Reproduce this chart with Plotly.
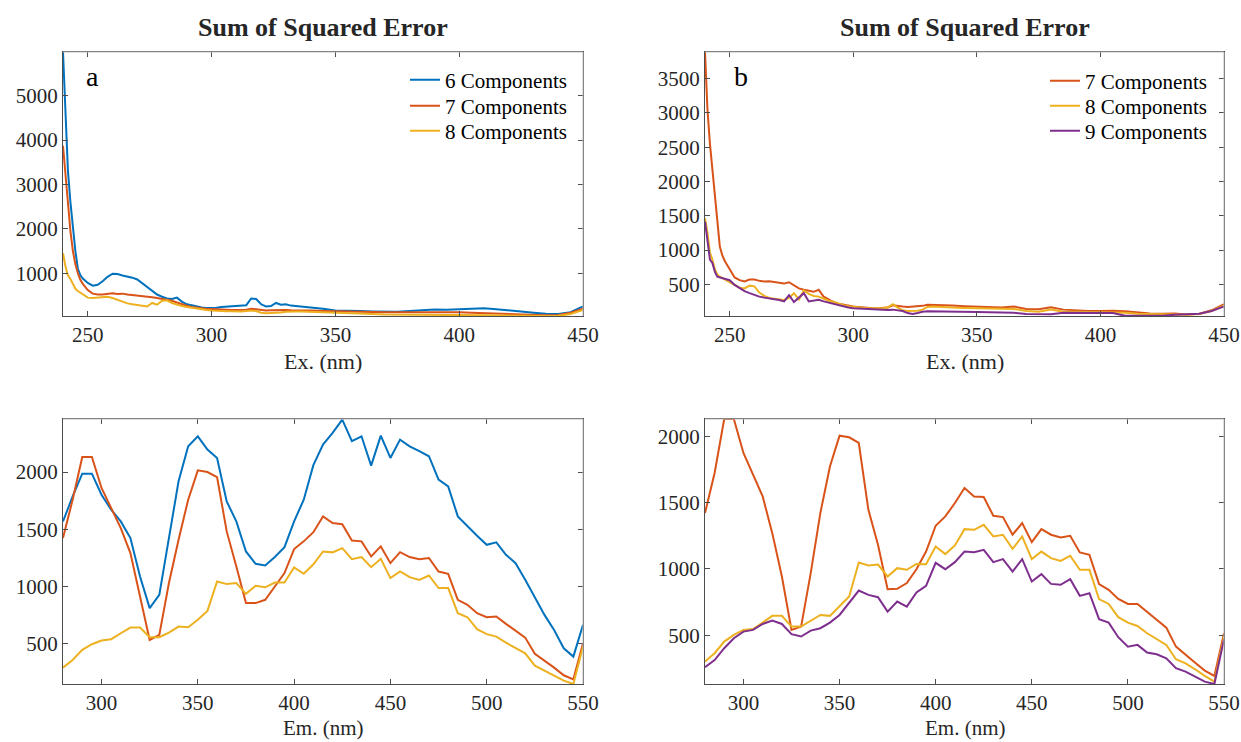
import plotly.graph_objects as go

# ---------------- Excitation (top row) ----------------
ex_nm = [240, 241, 242, 243, 244, 245, 246, 247, 248,
         250, 252, 254, 256, 258, 260, 262, 264, 266, 268,
         270, 272, 274, 276, 278, 280, 282, 284, 286, 288,
         290, 292, 294, 296, 298, 300, 302, 304, 306, 308,
         310, 312, 314, 316, 318, 320, 322, 324, 326, 328,
         330, 332, 334, 336, 338, 340,
         345, 350, 355, 360, 365, 370, 375, 380, 385, 390, 395,
         400, 405, 410, 415, 420, 425, 430, 435, 440, 445, 450]

ex_a_6 = [5986, 4400, 3300, 2600, 2000, 1500, 1100, 960, 880,
          780, 720, 740, 820, 920, 990, 980, 950, 930, 900,
          860, 780, 680, 600, 520, 470, 430, 420, 450, 360,
          300, 280, 250, 230, 215, 210, 220, 240, 250, 255,
          260, 265, 280, 430, 420, 300, 250, 260, 330, 290,
          300, 270, 260, 250, 245, 230,
          200, 160, 160, 150, 140, 130, 130, 150, 170, 180, 175,
          190, 200, 210, 190, 170, 140, 110, 85, 80, 120, 250]
ex_a_7 = [3873, 3200, 2600, 1950, 1500, 1200, 1000, 850, 760,
          620, 540, 520, 520, 540, 550, 530, 540, 520, 510,
          500, 480, 470, 460, 440, 420, 400, 380, 340, 300,
          270, 240, 220, 210, 200, 190, 180, 175, 175, 170,
          170, 172, 175, 200, 190, 165, 160, 165, 170, 165,
          170, 165, 160, 160, 165, 160,
          150, 140, 135, 130, 125, 120, 120, 125, 130, 130, 125,
          120, 110, 100, 90, 80, 70, 60, 55, 60, 110, 200]
ex_a_8 = [1451, 1150, 950, 870, 760, 650, 600, 560, 520,
          450, 440, 450, 470, 470, 440, 400, 360, 320, 300,
          280, 260, 250, 330, 290, 380, 390, 330, 290, 260,
          240, 220, 200, 180, 170, 160, 150, 150, 145, 145,
          140, 140, 150, 160, 150, 110, 100, 100, 110, 115,
          130, 140, 140, 140, 135, 130,
          120, 110, 90, 80, 80, 70, 65, 60, 60, 60, 60,
          60, 55, 50, 45, 45, 40, 40, 36, 40, 80, 170]

ex_b_7 = [3890, 3050, 2550, 2150, 1750, 1350, 1050, 920, 840,
          720, 600, 560, 540, 570, 570, 550, 540, 545, 530,
          520, 510, 530, 480, 440, 420, 400, 390, 420, 320,
          280, 240, 215, 200, 185, 175, 170, 160, 155, 150,
          150, 155, 160, 195, 180, 175, 170, 175, 175, 185,
          200, 200, 198, 195, 195, 190,
          180, 175, 165, 160, 175, 140, 135, 165, 130, 115, 110,
          110, 115, 105, 85, 75, 70, 75, 60, 70, 120, 210]
ex_b_8 = [1465, 1250, 960, 860, 720, 640, 610, 590, 570,
          540, 490, 450, 440, 480, 470, 380, 330, 300, 290,
          285, 270, 300, 370, 280, 410, 360, 330, 320, 290,
          260, 245, 215, 195, 180, 170, 160, 155, 150, 150,
          150, 150, 165, 210, 160, 120, 110, 110, 115, 130,
          170, 175, 170, 165, 160, 160,
          155, 150, 140, 135, 140, 110, 100, 130, 100, 100, 95,
          95, 95, 85, 70, 65, 60, 60, 55, 65, 110, 190]
ex_b_9 = [1416, 1150, 860, 810, 680, 610, 600, 590, 580,
          560, 490, 440, 400, 370, 340, 320, 305, 295, 285,
          270, 250, 340, 240, 300, 370, 250, 265, 275, 250,
          230, 210, 190, 175, 160, 150, 145, 140, 135, 130,
          128, 125, 125, 130, 115, 110, 80, 66, 80, 100,
          105, 105, 105, 100, 100, 100,
          95, 95, 90, 90, 85, 65, 62, 62, 85, 85, 85,
          85, 80, 40, 38, 37, 40, 55, 60, 70, 110, 175]

# ---------------- Emission (bottom row) ----------------
em_nm = [280, 285, 290, 295, 300, 305, 310, 315, 320, 325,
         330, 335, 340, 345, 350, 355, 360, 365, 370, 375,
         380, 385, 390, 395, 400, 405, 410, 415, 420, 425,
         430, 435, 440, 445, 450, 455, 460, 465, 470, 475,
         480, 485, 490, 495, 500, 505, 510, 515, 520, 525,
         530, 535, 540, 545, 550]

em_a_6 = [1569, 1788, 1986, 1986, 1802, 1671, 1569, 1424, 1089, 812,
          928, 1440, 1919, 2225, 2312, 2196, 2123, 1744, 1569, 1307,
          1199, 1185, 1258, 1345, 1569, 1759, 2060, 2240, 2342, 2458,
          2269, 2312, 2056, 2318, 2123, 2283, 2225, 2182, 2138, 1934,
          1875, 1613, 1526, 1444, 1365, 1386, 1278, 1205, 1059, 899,
          753, 622, 462, 389, 666]
em_a_7 = [1424, 1759, 2132, 2132, 1861, 1686, 1511, 1293, 914, 535,
          579, 1031, 1409, 1759, 2015, 2000, 1956, 1482, 1176, 856,
          856, 885, 1001, 1118, 1328, 1395, 1475, 1613, 1555, 1545,
          1403, 1395, 1263, 1351, 1205, 1301, 1258, 1240, 1250, 1132,
          1112, 885, 841, 768, 733, 739, 675, 614, 555, 413,
          354, 293, 226, 191, 506]
em_a_8 = [293, 360, 448, 497, 529, 541, 593, 643, 643, 558,
          558, 599, 651, 645, 710, 788, 1045, 1022, 1031, 937,
          1007, 994, 1036, 1036, 1167, 1112, 1195, 1307, 1299, 1336,
          1240, 1258, 1170, 1243, 1074, 1132, 1083, 1059, 1097, 987,
          987, 768, 733, 628, 585, 564, 511, 462, 418, 310,
          266, 223, 179, 150, 477]

em_b_7 = [1421, 1724, 2131, 2131, 1875, 1711, 1547, 1270, 943, 540,
          565, 968, 1421, 1773, 2005, 1993, 1950, 1446, 1182, 847,
          850, 893, 998, 1131, 1326, 1396, 1497, 1610, 1547, 1542,
          1401, 1391, 1258, 1346, 1202, 1300, 1258, 1237, 1250, 1124,
          1106, 885, 842, 774, 736, 736, 674, 616, 557, 414,
          351, 293, 233, 193, 515]
em_b_8 = [301, 364, 452, 502, 540, 547, 595, 646, 646, 565,
          565, 610, 653, 646, 716, 792, 1048, 1026, 1033, 943,
          1006, 994, 1038, 1036, 1169, 1112, 1177, 1300, 1295, 1333,
          1245, 1258, 1152, 1245, 1074, 1131, 1081, 1061, 1099, 993,
          993, 772, 736, 636, 595, 570, 515, 470, 427, 319,
          288, 243, 193, 150, 490]
em_b_9 = [258, 313, 402, 477, 527, 540, 585, 610, 585, 508,
          490, 535, 553, 595, 653, 742, 837, 804, 787, 678,
          754, 716, 822, 872, 1046, 998, 1051, 1131, 1126, 1144,
          1051, 1074, 980, 1074, 905, 961, 887, 880, 923, 797,
          817, 621, 595, 485, 414, 427, 369, 356, 326, 251,
          225, 187, 150, 132, 470]

BLUE, ORANGE, YELLOW, PURPLE = "#0072BD", "#D95319", "#EDB120", "#7E2F8E"
FONT = "Times New Roman, Liberation Serif, serif"
TXT = "#262626"

W, H = 1241, 742
WX = 1225  # usable plotting width in px for horizontal placement


def px(xp):
    return xp / WX


def py(yp):
    return 1 - yp / H


LEFT_A, RIGHT_A = px(63), px(583)
LEFT_B, RIGHT_B = px(705), px(1224)
TOP_T, BOT_T = py(52), py(316)
TOP_B, BOT_B = py(419), py(684)

fig = go.Figure()


def add(x, y, name, color, xa, ya, legend=None):
    fig.add_trace(go.Scatter(
        x=x, y=y, mode="lines", name=name,
        line=dict(color=color, width=2),
        xaxis=xa, yaxis=ya,
        showlegend=legend is not None,
        legend=legend if legend else "legend",
    ))


# panel a (one legend box per entry so rows sit where wanted)
add(ex_nm, ex_a_6, "6 Components", BLUE, "x", "y", "legend")
add(ex_nm, ex_a_7, "7 Components", ORANGE, "x", "y", "legend2")
add(ex_nm, ex_a_8, "8 Components", YELLOW, "x", "y", "legend3")
add(em_nm, em_a_6, "6 Components", BLUE, "x3", "y3")
add(em_nm, em_a_7, "7 Components", ORANGE, "x3", "y3")
add(em_nm, em_a_8, "8 Components", YELLOW, "x3", "y3")
# panel b
add(ex_nm, ex_b_7, "7 Components", ORANGE, "x2", "y2", "legend4")
add(ex_nm, ex_b_8, "8 Components", YELLOW, "x2", "y2", "legend5")
add(ex_nm, ex_b_9, "9 Components", PURPLE, "x2", "y2", "legend6")
add(em_nm, em_b_7, "7 Components", ORANGE, "x4", "y4")
add(em_nm, em_b_8, "8 Components", YELLOW, "x4", "y4")
add(em_nm, em_b_9, "9 Components", PURPLE, "x4", "y4")


def xax(dom, rng, ticks, anchor):
    return dict(domain=dom, range=rng, tickvals=ticks, ticks="inside", ticklen=5,
                tickcolor="#4d4d4d", showline=True, linecolor="#4d4d4d", linewidth=1,
                mirror="ticks", showgrid=False, zeroline=False, anchor=anchor,
                tickfont=dict(family=FONT, size=21, color=TXT))


def yax(dom, rng, ticks, anchor):
    return dict(domain=dom, range=rng, tickvals=ticks, ticks="inside", ticklen=5,
                tickcolor="#4d4d4d", showline=True, linecolor="#4d4d4d", linewidth=1,
                mirror="ticks", showgrid=False, zeroline=False, anchor=anchor,
                tickfont=dict(family=FONT, size=21, color=TXT))


def leg(xp, yp):
    return dict(x=px(xp), y=py(yp), xanchor="left", yanchor="middle",
                bgcolor="rgba(0,0,0,0)", borderwidth=0,
                font=dict(family=FONT, size=21, color="black"), itemwidth=30)


fig.update_layout(
    width=W, height=H, margin=dict(l=0, r=0, t=0, b=0),
    paper_bgcolor="white", plot_bgcolor="white",
    xaxis=xax([LEFT_A, RIGHT_A], [240, 450], [250, 300, 350, 400, 450], "y"),
    yaxis=yax([BOT_T, TOP_T], [36, 5986], [1000, 2000, 3000, 4000, 5000], "x"),
    xaxis2=xax([LEFT_B, RIGHT_B], [240, 450], [250, 300, 350, 400, 450], "y2"),
    yaxis2=yax([BOT_T, TOP_T], [37, 3890], [500, 1000, 1500, 2000, 2500, 3000, 3500], "x2"),
    xaxis3=xax([LEFT_A, RIGHT_A], [280, 550], [300, 350, 400, 450, 500, 550], "y3"),
    yaxis3=yax([BOT_B, TOP_B], [150, 2463], [500, 1000, 1500, 2000], "x3"),
    xaxis4=xax([LEFT_B, RIGHT_B], [280, 550], [300, 350, 400, 450, 500, 550], "y4"),
    yaxis4=yax([BOT_B, TOP_B], [132, 2131], [500, 1000, 1500, 2000], "x4"),
    legend=leg(405, 80), legend2=leg(405, 106), legend3=leg(405, 131),
    legend4=leg(1045, 81), legend5=leg(1045, 106), legend6=leg(1045, 131),
    showlegend=True,
)

# lighter box edges on top and right of every axes
for xa, ya in [("x", "y"), ("x2", "y2"), ("x3", "y3"), ("x4", "y4")]:
    fig.add_shape(type="line", xref=f"{xa} domain", yref=f"{ya} domain",
                  x0=0, x1=1, y0=1, y1=1, line=dict(color="#bdbdbd", width=1), layer="above")
    fig.add_shape(type="line", xref=f"{xa} domain", yref=f"{ya} domain",
                  x0=1, x1=1, y0=0, y1=1, line=dict(color="#bdbdbd", width=1), layer="above")


def text(s, xp, yp, size, color=TXT):
    fig.add_annotation(text=s, x=px(xp), y=py(yp), xref="paper", yref="paper",
                       xanchor="center", yanchor="middle", showarrow=False,
                       font=dict(family=FONT, size=size, color=color))


for xc in (323, 965):
    text("<b>Sum of Squared Error</b>", xc, 27, 26)
    text("Ex. (nm)", xc, 362, 22)
    text("Em. (nm)", xc, 728, 21)
text("a", 92, 77, 28, "black")
text("b", 741, 77, 28, "black")

fig.write_html("out.html")
